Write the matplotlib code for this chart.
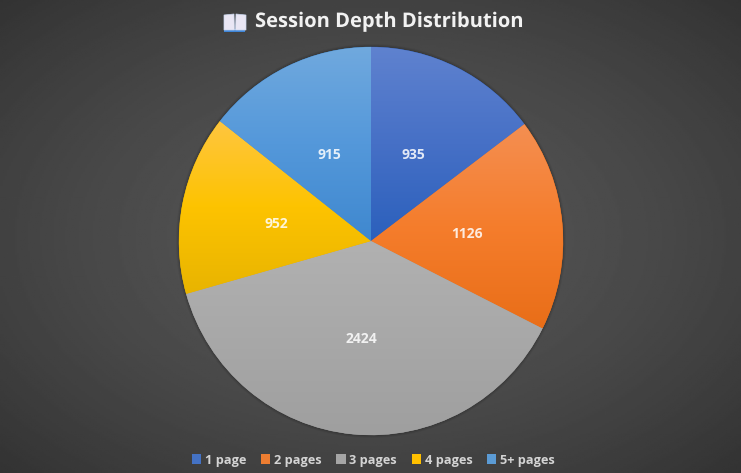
import numpy as np
import matplotlib
matplotlib.use("Agg")
import matplotlib.pyplot as plt
import matplotlib.patheffects as pe
from matplotlib.colors import LinearSegmentedColormap
from matplotlib.patches import Ellipse, Patch, Polygon, Rectangle
from matplotlib.transforms import ScaledTranslation

categories = ["1 page", "2 pages", "3 pages", "4 pages", "5+ pages"]
sessions = [935, 1126, 2424, 952, 915]
top_colors = ["#5f82cf", "#f48f52", "#b1b1b1", "#ffc640", "#70a9de"]
mid_colors = ["#4670c6", "#f57d2c", "#a8a8a8", "#fdc300", "#5498da"]
bottom_colors = ["#2b60bc", "#e96e18", "#9f9f9f", "#e8b400", "#3f88cf"]
legend_colors = ["#4472c4", "#ed7d31", "#a5a5a5", "#ffc000", "#5b9bd5"]
title = "Session Depth Distribution"

W, H = 741, 473
plt.rcParams["font.family"] = ["Open Sans", "DejaVu Sans"]

fig = plt.figure(figsize=(W / 100, H / 100), dpi=100)
bg = fig.add_axes([0, 0, 1, 1])
bg.set_xlim(0, W)
bg.set_ylim(0, H)

# radial background, lighter in the middle
yy, xx = np.mgrid[0:1:240j, 0:1:380j]
dist = np.hypot((xx - 0.5) / 0.72, (yy - 0.5) / 0.72)
back = np.clip(0.335 - 0.14 * dist ** 1.6, 0, 1)
bg.imshow(back, cmap="gray", vmin=0, vmax=1, extent=(0, W, 0, H), aspect="auto")
bg.axis("off")

# soft shadow round the pie
for grow, alpha in [(3, 0.05), (2, 0.07), (1, 0.09)]:
    bg.add_patch(Ellipse((371, H - 241), 384 + 2 * grow, 388 + 2 * grow,
                         fc="black", ec="none", alpha=alpha))

# the pie sits in its own axes, 384 x 388 px
ax = fig.add_axes([179 / W, 1 - 435 / H, 384 / W, 388 / H])
total = sum(sessions)
wedges, _, autotexts = ax.pie(
    sessions,
    startangle=90,
    counterclock=False,
    autopct=lambda p: f"{round(p * total / 100)}",
    pctdistance=0.5,
    wedgeprops={"linewidth": 0.3},
)
ax.set_aspect("auto")
ax.set_xlim(-1, 1)
ax.set_ylim(-1, 1)
ax.axis("off")

# value labels sit a little under the slice's midpoint
nudge = ScaledTranslation(0, -1.3 / 100, fig.dpi_scale_trans)

# each slice gets its own top-to-bottom gradient
for w, c_top, c_mid, c_bot, txt in zip(wedges, top_colors, mid_colors, bottom_colors, autotexts):
    w.set_facecolor(c_mid)
    w.set_edgecolor(c_bot)
    box = w.get_path().get_extents(w.get_patch_transform())
    cmap = LinearSegmentedColormap.from_list("slice", [c_top, c_mid, c_bot])
    im = ax.imshow(np.linspace(0, 1, 256).reshape(-1, 1), cmap=cmap,
                   extent=(box.x0, box.x1, box.y0, box.y1), origin="upper",
                   aspect="auto", zorder=1.5)
    im.set_clip_path(w)
    txt.set(color="white", alpha=0.85, fontsize=10, fontweight="bold", zorder=3)
    txt.set_transform(txt.get_transform() + nudge)
ax.set_aspect("auto")
ax.set_xlim(-1, 1)
ax.set_ylim(-1, 1)

fig.text(255 / W, 1 - 22 / H, title, color="#f2f2f2", fontsize=14.5,
         fontweight="bold", ha="left", va="center",
         path_effects=[pe.withSimplePatchShadow(offset=(0.8, -0.8), alpha=0.5)])

# open book icon next to the title
bg.add_patch(Rectangle((224, H - 32), 21, 3, fc="#3f86d8", ec="none", zorder=3))
bg.add_patch(Polygon([(224, H - 30), (224, H - 15), (234, H - 14), (234.5, H - 30)],
                     fc="#e9e6f4", ec="#c9d6ee", lw=0.5, zorder=4))
bg.add_patch(Polygon([(235.5, H - 30), (236, H - 14), (246, H - 15), (246, H - 30)],
                     fc="#e9e6f4", ec="#c9d6ee", lw=0.5, zorder=4))

handles = [Patch(fc=c, ec="none", label=n) for c, n in zip(legend_colors, categories)]
bg.legend(handles=handles, ncol=5, loc="center", frameon=False,
          bbox_to_anchor=(373.5 / W, 1 - 460 / H),
          handlelength=0.72, handleheight=0.72, handletextpad=0.3,
          columnspacing=1.15, labelcolor="#d4d4d4",
          prop={"weight": "bold", "size": 9.2})

fig.savefig("out.png", dpi=100)
